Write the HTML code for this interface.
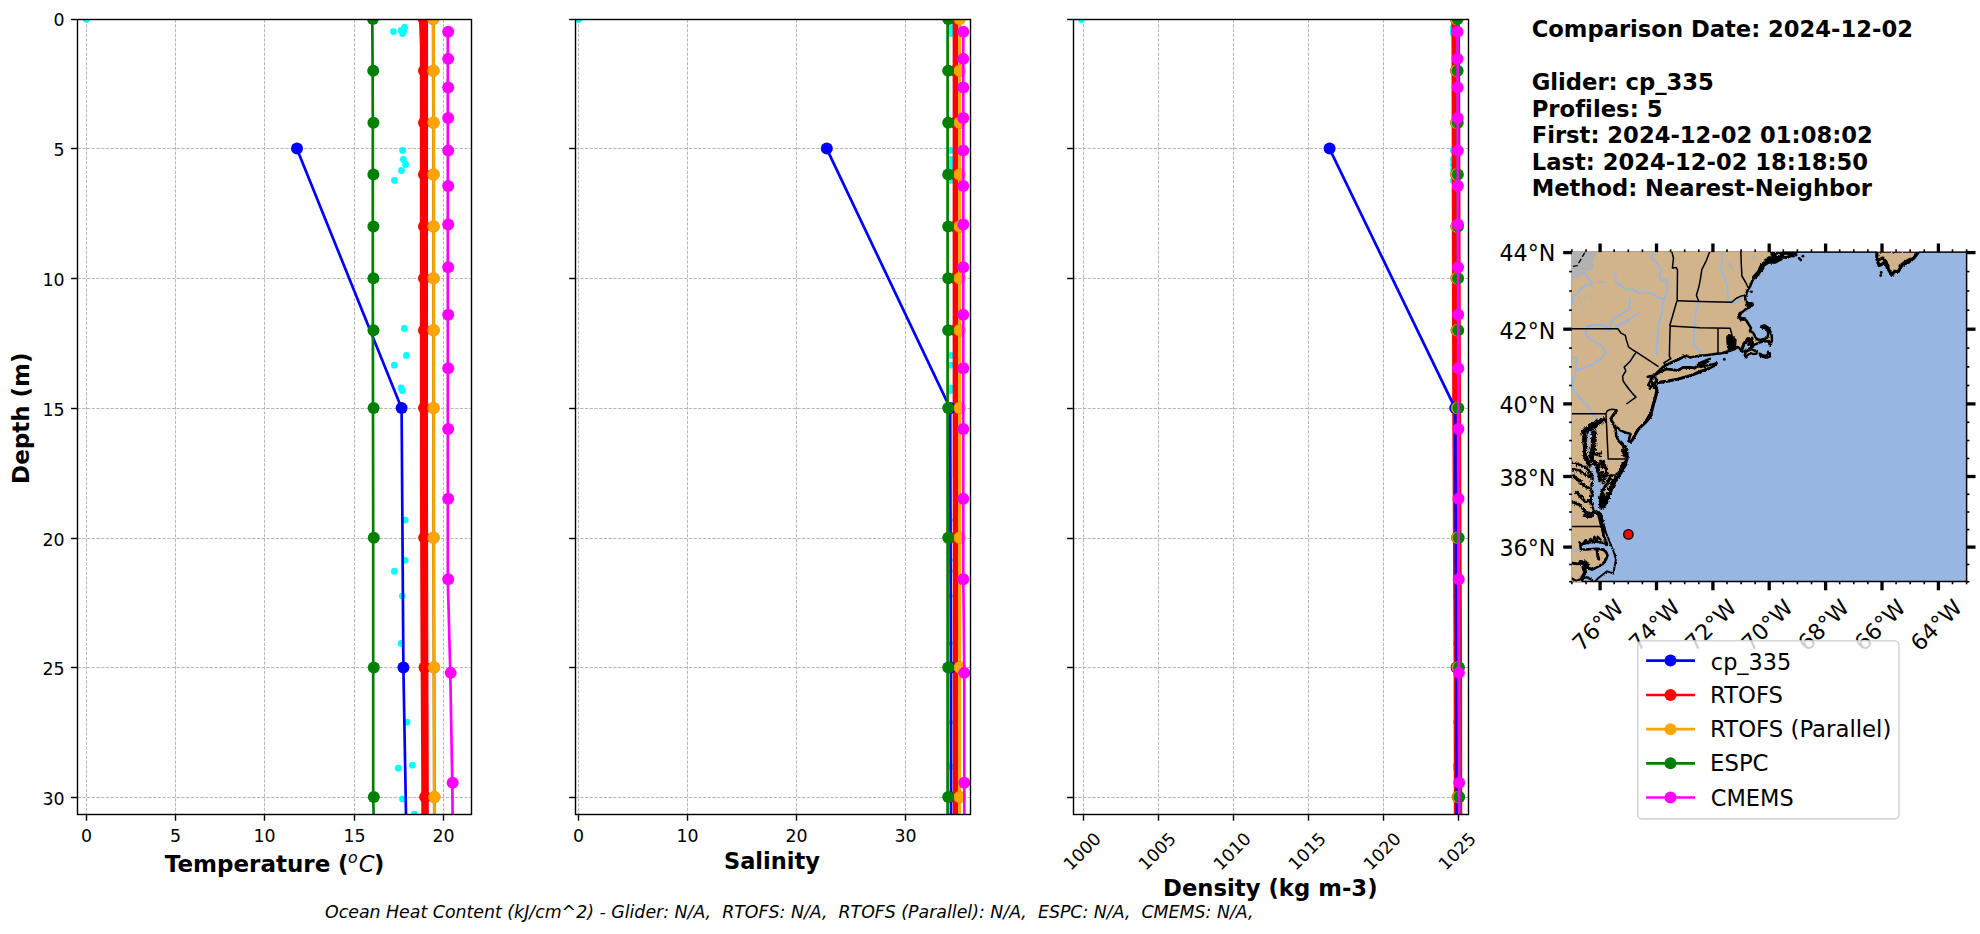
<!DOCTYPE html>
<html lang="en"><head><meta charset="utf-8"><title>Glider / model profile comparison</title>
<style>html,body{margin:0;padding:0;background:#fff}svg{display:block}text{font-family:"DejaVu Sans", "Liberation Sans", sans-serif;font-variant-ligatures:none;font-feature-settings:"liga" 0,"clig" 0}</style></head><body>
<svg width="1980" height="934" viewBox="0 0 1980 934">
<rect width="1980" height="934" fill="#fff"/>
<defs>
<clipPath id="c0"><rect x="77.5" y="19.5" width="394" height="795"/></clipPath>
<clipPath id="c1"><rect x="575.5" y="19.5" width="395" height="795"/></clipPath>
<clipPath id="c2"><rect x="1073.5" y="19.5" width="395" height="795"/></clipPath>
</defs>
<g stroke="#b0b0b0" stroke-width="0.9" stroke-dasharray="3.3 1.42" fill="none"><line x1="86.5" y1="19.5" x2="86.5" y2="814.5"/><line x1="175.5" y1="19.5" x2="175.5" y2="814.5"/><line x1="264.5" y1="19.5" x2="264.5" y2="814.5"/><line x1="354.5" y1="19.5" x2="354.5" y2="814.5"/><line x1="443.5" y1="19.5" x2="443.5" y2="814.5"/><line x1="77.5" y1="19.5" x2="471.5" y2="19.5"/><line x1="77.5" y1="148.5" x2="471.5" y2="148.5"/><line x1="77.5" y1="278.5" x2="471.5" y2="278.5"/><line x1="77.5" y1="408.5" x2="471.5" y2="408.5"/><line x1="77.5" y1="538.5" x2="471.5" y2="538.5"/><line x1="77.5" y1="667.5" x2="471.5" y2="667.5"/><line x1="77.5" y1="797.5" x2="471.5" y2="797.5"/></g>
<g clip-path="url(#c0)">
<circle cx="86.45" cy="19.4" r="3.4" fill="#00ffff"/><circle cx="393.4" cy="31.6" r="3.4" fill="#00ffff"/><circle cx="401.1" cy="30.5" r="3.4" fill="#00ffff"/><circle cx="404.5" cy="27.4" r="3.4" fill="#00ffff"/><circle cx="402.6" cy="33.6" r="3.4" fill="#00ffff"/><circle cx="403.7" cy="31" r="3.4" fill="#00ffff"/><circle cx="402.6" cy="150.4" r="3.4" fill="#00ffff"/><circle cx="403.5" cy="159.4" r="3.4" fill="#00ffff"/><circle cx="405.6" cy="164.5" r="3.4" fill="#00ffff"/><circle cx="401.5" cy="170.5" r="3.4" fill="#00ffff"/><circle cx="394.5" cy="180.4" r="3.4" fill="#00ffff"/><circle cx="404.4" cy="328.4" r="3.4" fill="#00ffff"/><circle cx="406.4" cy="355.4" r="3.4" fill="#00ffff"/><circle cx="394.4" cy="365.2" r="3.4" fill="#00ffff"/><circle cx="401.1" cy="388" r="3.4" fill="#00ffff"/><circle cx="402.4" cy="390.6" r="3.4" fill="#00ffff"/><circle cx="405.2" cy="520.1" r="3.4" fill="#00ffff"/><circle cx="405.2" cy="560.3" r="3.4" fill="#00ffff"/><circle cx="394.4" cy="571.2" r="3.4" fill="#00ffff"/><circle cx="402.3" cy="596.1" r="3.4" fill="#00ffff"/><circle cx="401.1" cy="643.5" r="3.4" fill="#00ffff"/><circle cx="407.1" cy="722.2" r="3.4" fill="#00ffff"/><circle cx="412.4" cy="765.2" r="3.4" fill="#00ffff"/><circle cx="398.3" cy="768.2" r="3.4" fill="#00ffff"/><circle cx="402.6" cy="799.1" r="3.4" fill="#00ffff"/><circle cx="414.3" cy="814.2" r="3.4" fill="#00ffff"/>
<polyline fill="none" stroke="#0000ff" stroke-width="2.7" points="297,148.95 401.6,408.35 403.4,667.75 408,927.15"/>
<circle cx="297" cy="148.6" r="6" fill="#0000ff"/>
<circle cx="401.6" cy="408" r="6" fill="#0000ff"/>
<circle cx="403.4" cy="667.4" r="6" fill="#0000ff"/>
<polygon fill="#ff0000" points="418.9,19.4 419.8,45 419.9,480 420.4,630 421.2,775 421.3,820 428.9,820 428.8,775 428.3,630 428,480 428.1,19.4"/>
<circle cx="423.6" cy="18.9" r="6" fill="#ff0000"/>
<circle cx="424.05" cy="70.78" r="6" fill="#ff0000"/>
<circle cx="424.05" cy="122.66" r="6" fill="#ff0000"/>
<circle cx="424.05" cy="174.54" r="6" fill="#ff0000"/>
<circle cx="424.05" cy="226.42" r="6" fill="#ff0000"/>
<circle cx="424.05" cy="278.3" r="6" fill="#ff0000"/>
<circle cx="424.05" cy="330.18" r="6" fill="#ff0000"/>
<circle cx="424.05" cy="408" r="6" fill="#ff0000"/>
<circle cx="424.2" cy="537.7" r="6" fill="#ff0000"/>
<circle cx="424.62" cy="667.4" r="6" fill="#ff0000"/>
<circle cx="425.15" cy="797.1" r="6" fill="#ff0000"/>
<g stroke="#b8860b" stroke-width="0.5"><polyline fill="none" stroke="#c58a10" stroke-width="3.3" points="433.3,19.25 433.45,71.13 433.6,123.01 433.6,174.89 433.6,226.77 433.6,278.65 433.6,330.53 433.6,408.35 433.6,538.05 434,667.75 434.4,797.45 435,927.15"/><circle cx="433.3" cy="18.9" r="6" fill="#ffa500"/><circle cx="433.45" cy="70.78" r="6" fill="#ffa500"/><circle cx="433.6" cy="122.66" r="6" fill="#ffa500"/><circle cx="433.6" cy="174.54" r="6" fill="#ffa500"/><circle cx="433.6" cy="226.42" r="6" fill="#ffa500"/><circle cx="433.6" cy="278.3" r="6" fill="#ffa500"/><circle cx="433.6" cy="330.18" r="6" fill="#ffa500"/><circle cx="433.6" cy="408" r="6" fill="#ffa500"/><circle cx="433.6" cy="537.7" r="6" fill="#ffa500"/><circle cx="434" cy="667.4" r="6" fill="#ffa500"/><circle cx="434.4" cy="797.1" r="6" fill="#ffa500"/></g>
<polyline fill="none" stroke="#ffa500" stroke-width="2.5" points="433.3,19.25 433.45,71.13 433.6,123.01 433.6,174.89 433.6,226.77 433.6,278.65 433.6,330.53 433.6,408.35 433.6,538.05 434,667.75 434.4,797.45 435,927.15"/>
<polyline fill="none" stroke="#008000" stroke-width="2.7" points="372.3,19.25 372.63,71.13 372.8,123.01 372.8,174.89 372.8,226.77 372.8,278.65 372.88,330.53 373,408.35 373.2,538.05 373.2,667.75 373.2,797.45 376.5,927.15"/><circle cx="372.9" cy="18.9" r="6" fill="#008000"/><circle cx="373.23" cy="70.78" r="6" fill="#008000"/><circle cx="373.4" cy="122.66" r="6" fill="#008000"/><circle cx="373.4" cy="174.54" r="6" fill="#008000"/><circle cx="373.4" cy="226.42" r="6" fill="#008000"/><circle cx="373.4" cy="278.3" r="6" fill="#008000"/><circle cx="373.48" cy="330.18" r="6" fill="#008000"/><circle cx="373.6" cy="408" r="6" fill="#008000"/><circle cx="373.8" cy="537.7" r="6" fill="#008000"/><circle cx="373.8" cy="667.4" r="6" fill="#008000"/><circle cx="373.8" cy="797.1" r="6" fill="#008000"/>
<polyline fill="none" stroke="#ff00ff" stroke-width="2.7" points="447.8,32.06 447.8,59.22 447.8,87.89 447.8,118.31 447.8,150.97 447.8,186.33 447.8,224.95 447.8,267.57 447.8,315.1 447.8,368.58 447.8,429.36 447.8,499.04 447.8,579.53 450.3,673.22 452.3,783.05 453.5,912.47"/><circle cx="448.2" cy="31.71" r="6" fill="#ff00ff"/><circle cx="448.2" cy="58.87" r="6" fill="#ff00ff"/><circle cx="448.2" cy="87.54" r="6" fill="#ff00ff"/><circle cx="448.2" cy="117.96" r="6" fill="#ff00ff"/><circle cx="448.2" cy="150.62" r="6" fill="#ff00ff"/><circle cx="448.2" cy="185.98" r="6" fill="#ff00ff"/><circle cx="448.2" cy="224.6" r="6" fill="#ff00ff"/><circle cx="448.2" cy="267.22" r="6" fill="#ff00ff"/><circle cx="448.2" cy="314.75" r="6" fill="#ff00ff"/><circle cx="448.2" cy="368.23" r="6" fill="#ff00ff"/><circle cx="448.2" cy="429.01" r="6" fill="#ff00ff"/><circle cx="448.2" cy="498.69" r="6" fill="#ff00ff"/><circle cx="448.2" cy="579.18" r="6" fill="#ff00ff"/><circle cx="450.7" cy="672.87" r="6" fill="#ff00ff"/><circle cx="452.7" cy="782.7" r="6" fill="#ff00ff"/>
</g>
<rect x="77.5" y="19.5" width="394" height="795" fill="none" stroke="#000" stroke-width="1.42"/>
<g stroke="#000" stroke-width="1.42"><line x1="71.1" y1="19.5" x2="76.9" y2="19.5"/><line x1="71.1" y1="148.5" x2="76.9" y2="148.5"/><line x1="71.1" y1="278.5" x2="76.9" y2="278.5"/><line x1="71.1" y1="408.5" x2="76.9" y2="408.5"/><line x1="71.1" y1="538.5" x2="76.9" y2="538.5"/><line x1="71.1" y1="667.5" x2="76.9" y2="667.5"/><line x1="71.1" y1="797.5" x2="76.9" y2="797.5"/><line x1="86.5" y1="815.1" x2="86.5" y2="820.7"/><line x1="175.5" y1="815.1" x2="175.5" y2="820.7"/><line x1="264.5" y1="815.1" x2="264.5" y2="820.7"/><line x1="354.5" y1="815.1" x2="354.5" y2="820.7"/><line x1="443.5" y1="815.1" x2="443.5" y2="820.7"/></g>
<g font-size="17.36" fill="#000"><text x="64.6" y="26" text-anchor="end">0</text><text x="64.6" y="156" text-anchor="end">5</text><text x="64.6" y="286" text-anchor="end">10</text><text x="64.6" y="416" text-anchor="end">15</text><text x="64.6" y="546" text-anchor="end">20</text><text x="64.6" y="675" text-anchor="end">25</text><text x="64.6" y="805" text-anchor="end">30</text><text x="86.5" y="842.1" text-anchor="middle">0</text><text x="175.5" y="842.1" text-anchor="middle">5</text><text x="264.5" y="842.1" text-anchor="middle">10</text><text x="354.5" y="842.1" text-anchor="middle">15</text><text x="443.5" y="842.1" text-anchor="middle">20</text></g>
<g stroke="#b0b0b0" stroke-width="0.9" stroke-dasharray="3.3 1.42" fill="none"><line x1="578.5" y1="19.5" x2="578.5" y2="814.5"/><line x1="687.5" y1="19.5" x2="687.5" y2="814.5"/><line x1="796.5" y1="19.5" x2="796.5" y2="814.5"/><line x1="905.5" y1="19.5" x2="905.5" y2="814.5"/><line x1="575.5" y1="19.5" x2="970.5" y2="19.5"/><line x1="575.5" y1="148.5" x2="970.5" y2="148.5"/><line x1="575.5" y1="278.5" x2="970.5" y2="278.5"/><line x1="575.5" y1="408.5" x2="970.5" y2="408.5"/><line x1="575.5" y1="538.5" x2="970.5" y2="538.5"/><line x1="575.5" y1="667.5" x2="970.5" y2="667.5"/><line x1="575.5" y1="797.5" x2="970.5" y2="797.5"/></g>
<g clip-path="url(#c1)">
<circle cx="578.5" cy="19.4" r="3.4" fill="#00ffff"/><circle cx="950.7" cy="31.6" r="3.4" fill="#00ffff"/><circle cx="950.7" cy="30.5" r="3.4" fill="#00ffff"/><circle cx="950.7" cy="27.4" r="3.4" fill="#00ffff"/><circle cx="950.7" cy="33.6" r="3.4" fill="#00ffff"/><circle cx="950.7" cy="150.4" r="3.4" fill="#00ffff"/><circle cx="950.7" cy="159.4" r="3.4" fill="#00ffff"/><circle cx="950.7" cy="164.5" r="3.4" fill="#00ffff"/><circle cx="950.7" cy="170.5" r="3.4" fill="#00ffff"/><circle cx="950.7" cy="180.4" r="3.4" fill="#00ffff"/><circle cx="950.7" cy="328.4" r="3.4" fill="#00ffff"/><circle cx="950.7" cy="355.4" r="3.4" fill="#00ffff"/><circle cx="950.7" cy="365.2" r="3.4" fill="#00ffff"/><circle cx="950.7" cy="388" r="3.4" fill="#00ffff"/><circle cx="950.7" cy="390.6" r="3.4" fill="#00ffff"/><circle cx="950.9" cy="520.1" r="2.2" fill="#00ffff"/><circle cx="950.9" cy="560.3" r="2.2" fill="#00ffff"/><circle cx="950.9" cy="571.2" r="2.2" fill="#00ffff"/><circle cx="950.9" cy="596.1" r="2.2" fill="#00ffff"/><circle cx="950.9" cy="643.5" r="2.2" fill="#00ffff"/><circle cx="950.9" cy="722.2" r="2.2" fill="#00ffff"/><circle cx="950.9" cy="765.2" r="2.2" fill="#00ffff"/><circle cx="950.9" cy="768.2" r="2.2" fill="#00ffff"/><circle cx="950.9" cy="799.1" r="2.2" fill="#00ffff"/>
<polygon fill="#ff0000" points="952.6,19.4 952.7,820 958.2,820 958.1,19.4"/>
<circle cx="955.3" cy="18.9" r="6" fill="#ff0000"/>
<circle cx="955.3" cy="70.78" r="6" fill="#ff0000"/>
<circle cx="955.3" cy="122.66" r="6" fill="#ff0000"/>
<circle cx="955.3" cy="174.54" r="6" fill="#ff0000"/>
<circle cx="955.3" cy="226.42" r="6" fill="#ff0000"/>
<circle cx="955.3" cy="278.3" r="6" fill="#ff0000"/>
<circle cx="955.3" cy="330.18" r="6" fill="#ff0000"/>
<circle cx="955.3" cy="408" r="6" fill="#ff0000"/>
<circle cx="955.3" cy="537.7" r="6" fill="#ff0000"/>
<circle cx="955.3" cy="667.4" r="6" fill="#ff0000"/>
<circle cx="955.3" cy="797.1" r="6" fill="#ff0000"/>
<polyline fill="none" stroke="#0000ff" stroke-width="2.7" points="826.8,148.95 950.2,408.35 950.9,667.75 951.1,927.15"/>
<circle cx="826.8" cy="148.6" r="6" fill="#0000ff"/>
<circle cx="950.2" cy="408" r="6" fill="#0000ff"/>
<circle cx="950.9" cy="667.4" r="6" fill="#0000ff"/>
<g stroke="#b8860b" stroke-width="0.5"><polyline fill="none" stroke="#ffa500" stroke-width="2.9" points="959.6,19.25 959.6,71.13 959.6,123.01 959.6,174.89 959.6,226.77 959.6,278.65 959.6,330.53 959.6,408.35 959.6,538.05 959.6,667.75 959.6,797.45 959.6,927.15"/><circle cx="959.6" cy="18.9" r="6" fill="#ffa500"/><circle cx="959.6" cy="70.78" r="6" fill="#ffa500"/><circle cx="959.6" cy="122.66" r="6" fill="#ffa500"/><circle cx="959.6" cy="174.54" r="6" fill="#ffa500"/><circle cx="959.6" cy="226.42" r="6" fill="#ffa500"/><circle cx="959.6" cy="278.3" r="6" fill="#ffa500"/><circle cx="959.6" cy="330.18" r="6" fill="#ffa500"/><circle cx="959.6" cy="408" r="6" fill="#ffa500"/><circle cx="959.6" cy="537.7" r="6" fill="#ffa500"/><circle cx="959.6" cy="667.4" r="6" fill="#ffa500"/><circle cx="959.6" cy="797.1" r="6" fill="#ffa500"/></g>
<polyline fill="none" stroke="#008000" stroke-width="2.7" points="947.6,19.25 947.6,71.13 947.6,123.01 947.6,174.89 947.6,226.77 947.6,278.65 947.6,330.53 947.6,408.35 947.6,538.05 947.6,667.75 947.6,797.45 947.6,927.15"/><circle cx="948.2" cy="18.9" r="6" fill="#008000"/><circle cx="948.2" cy="70.78" r="6" fill="#008000"/><circle cx="948.2" cy="122.66" r="6" fill="#008000"/><circle cx="948.2" cy="174.54" r="6" fill="#008000"/><circle cx="948.2" cy="226.42" r="6" fill="#008000"/><circle cx="948.2" cy="278.3" r="6" fill="#008000"/><circle cx="948.2" cy="330.18" r="6" fill="#008000"/><circle cx="948.2" cy="408" r="6" fill="#008000"/><circle cx="948.2" cy="537.7" r="6" fill="#008000"/><circle cx="948.2" cy="667.4" r="6" fill="#008000"/><circle cx="948.2" cy="797.1" r="6" fill="#008000"/>
<polyline fill="none" stroke="#ff00ff" stroke-width="2.7" points="963.3,32.06 963.3,59.22 963.3,87.89 963.3,118.31 963.3,150.97 963.3,186.33 963.3,224.95 963.3,267.57 963.3,315.1 963.3,368.58 963.3,429.36 963.3,499.04 963.3,579.53 964.3,673.22 964.3,783.05 964.6,912.47"/><circle cx="963.3" cy="31.71" r="6" fill="#ff00ff"/><circle cx="963.3" cy="58.87" r="6" fill="#ff00ff"/><circle cx="963.3" cy="87.54" r="6" fill="#ff00ff"/><circle cx="963.3" cy="117.96" r="6" fill="#ff00ff"/><circle cx="963.3" cy="150.62" r="6" fill="#ff00ff"/><circle cx="963.3" cy="185.98" r="6" fill="#ff00ff"/><circle cx="963.3" cy="224.6" r="6" fill="#ff00ff"/><circle cx="963.3" cy="267.22" r="6" fill="#ff00ff"/><circle cx="963.3" cy="314.75" r="6" fill="#ff00ff"/><circle cx="963.3" cy="368.23" r="6" fill="#ff00ff"/><circle cx="963.3" cy="429.01" r="6" fill="#ff00ff"/><circle cx="963.3" cy="498.69" r="6" fill="#ff00ff"/><circle cx="963.3" cy="579.18" r="6" fill="#ff00ff"/><circle cx="964.3" cy="672.87" r="6" fill="#ff00ff"/><circle cx="964.3" cy="782.7" r="6" fill="#ff00ff"/>
</g>
<rect x="575.5" y="19.5" width="395" height="795" fill="none" stroke="#000" stroke-width="1.42"/>
<g stroke="#000" stroke-width="1.42"><line x1="569.1" y1="19.5" x2="574.9" y2="19.5"/><line x1="569.1" y1="148.5" x2="574.9" y2="148.5"/><line x1="569.1" y1="278.5" x2="574.9" y2="278.5"/><line x1="569.1" y1="408.5" x2="574.9" y2="408.5"/><line x1="569.1" y1="538.5" x2="574.9" y2="538.5"/><line x1="569.1" y1="667.5" x2="574.9" y2="667.5"/><line x1="569.1" y1="797.5" x2="574.9" y2="797.5"/><line x1="578.5" y1="815.1" x2="578.5" y2="820.7"/><line x1="687.5" y1="815.1" x2="687.5" y2="820.7"/><line x1="796.5" y1="815.1" x2="796.5" y2="820.7"/><line x1="905.5" y1="815.1" x2="905.5" y2="820.7"/></g>
<g font-size="17.36" fill="#000"><text x="578.5" y="842.1" text-anchor="middle">0</text><text x="687.5" y="842.1" text-anchor="middle">10</text><text x="796.5" y="842.1" text-anchor="middle">20</text><text x="905.5" y="842.1" text-anchor="middle">30</text></g>
<g stroke="#b0b0b0" stroke-width="0.9" stroke-dasharray="3.3 1.42" fill="none"><line x1="1083.5" y1="19.5" x2="1083.5" y2="814.5"/><line x1="1158.5" y1="19.5" x2="1158.5" y2="814.5"/><line x1="1233.5" y1="19.5" x2="1233.5" y2="814.5"/><line x1="1308.5" y1="19.5" x2="1308.5" y2="814.5"/><line x1="1383.5" y1="19.5" x2="1383.5" y2="814.5"/><line x1="1458.5" y1="19.5" x2="1458.5" y2="814.5"/><line x1="1073.5" y1="19.5" x2="1468.5" y2="19.5"/><line x1="1073.5" y1="148.5" x2="1468.5" y2="148.5"/><line x1="1073.5" y1="278.5" x2="1468.5" y2="278.5"/><line x1="1073.5" y1="408.5" x2="1468.5" y2="408.5"/><line x1="1073.5" y1="538.5" x2="1468.5" y2="538.5"/><line x1="1073.5" y1="667.5" x2="1468.5" y2="667.5"/><line x1="1073.5" y1="797.5" x2="1468.5" y2="797.5"/></g>
<g clip-path="url(#c2)">
<circle cx="1081.5" cy="19.4" r="3.4" fill="#00ffff"/><circle cx="1453.4" cy="31.6" r="3.4" fill="#00ffff"/><circle cx="1453.4" cy="30.5" r="3.4" fill="#00ffff"/><circle cx="1453.4" cy="27.4" r="3.4" fill="#00ffff"/><circle cx="1453.4" cy="33.6" r="3.4" fill="#00ffff"/><circle cx="1453.4" cy="150.4" r="3.4" fill="#00ffff"/><circle cx="1453.4" cy="159.4" r="3.4" fill="#00ffff"/><circle cx="1453.4" cy="164.5" r="3.4" fill="#00ffff"/><circle cx="1453.4" cy="170.5" r="3.4" fill="#00ffff"/><circle cx="1453.4" cy="180.4" r="3.4" fill="#00ffff"/><circle cx="1455.6" cy="328.4" r="3.4" fill="#00ffff"/><circle cx="1455.6" cy="355.4" r="3.4" fill="#00ffff"/><circle cx="1455.6" cy="365.2" r="3.4" fill="#00ffff"/><circle cx="1456.4" cy="388" r="3.4" fill="#00ffff"/><circle cx="1456.4" cy="390.6" r="3.4" fill="#00ffff"/><circle cx="1456.4" cy="520.1" r="3.4" fill="#00ffff"/><circle cx="1456.4" cy="560.3" r="3.4" fill="#00ffff"/><circle cx="1456.4" cy="571.2" r="3.4" fill="#00ffff"/><circle cx="1456.4" cy="596.1" r="3.4" fill="#00ffff"/><circle cx="1456.4" cy="643.5" r="3.4" fill="#00ffff"/><circle cx="1456.4" cy="722.2" r="3.4" fill="#00ffff"/><circle cx="1456.4" cy="765.2" r="3.4" fill="#00ffff"/><circle cx="1456.4" cy="768.2" r="3.4" fill="#00ffff"/><circle cx="1456.4" cy="799.1" r="3.4" fill="#00ffff"/>
<polygon fill="#ff0000" points="1451.4,19.4 1452.2,408 1453.6,668 1453.8,820 1462.3,820 1462.1,668 1461,408 1460,19.4"/>
<circle cx="1455.9" cy="18.9" r="6" fill="#ff0000"/>
<circle cx="1456.02" cy="70.78" r="6" fill="#ff0000"/>
<circle cx="1456.14" cy="122.66" r="6" fill="#ff0000"/>
<circle cx="1456.26" cy="174.54" r="6" fill="#ff0000"/>
<circle cx="1456.38" cy="226.42" r="6" fill="#ff0000"/>
<circle cx="1456.5" cy="278.3" r="6" fill="#ff0000"/>
<circle cx="1456.62" cy="330.18" r="6" fill="#ff0000"/>
<circle cx="1456.8" cy="408" r="6" fill="#ff0000"/>
<circle cx="1457.1" cy="537.7" r="6" fill="#ff0000"/>
<circle cx="1457.4" cy="667.4" r="6" fill="#ff0000"/>
<circle cx="1457.7" cy="797.1" r="6" fill="#ff0000"/>
<polyline fill="none" stroke="#0000ff" stroke-width="2.7" points="1329.6,148.95 1455.2,408.35 1456.3,667.75 1456.8,927.15"/>
<circle cx="1329.6" cy="148.6" r="6" fill="#0000ff"/>
<circle cx="1455.2" cy="408" r="6" fill="#0000ff"/>
<circle cx="1456.6" cy="667.4" r="6" fill="#0000ff"/>
<g stroke="#b8860b" stroke-width="0.5"><polyline fill="none" stroke="#ffa500" stroke-width="2.2" points="1457.5,19.25 1457.62,71.13 1457.74,123.01 1457.86,174.89 1457.98,226.77 1458.1,278.65 1458.22,330.53 1458.4,408.35 1458.7,538.05 1459,667.75 1459.3,797.45 1459.4,927.15"/><circle cx="1456.2" cy="18.9" r="6" fill="#ffa500"/><circle cx="1456.32" cy="70.78" r="6" fill="#ffa500"/><circle cx="1456.44" cy="122.66" r="6" fill="#ffa500"/><circle cx="1456.56" cy="174.54" r="6" fill="#ffa500"/><circle cx="1456.68" cy="226.42" r="6" fill="#ffa500"/><circle cx="1456.8" cy="278.3" r="6" fill="#ffa500"/><circle cx="1456.92" cy="330.18" r="6" fill="#ffa500"/><circle cx="1457.1" cy="408" r="6" fill="#ffa500"/><circle cx="1457.4" cy="537.7" r="6" fill="#ffa500"/><circle cx="1457.7" cy="667.4" r="6" fill="#ffa500"/><circle cx="1458" cy="797.1" r="6" fill="#ffa500"/></g>
<polyline fill="none" stroke="#008000" stroke-width="2.7" points="1457.5,19.25 1457.62,71.13 1457.74,123.01 1457.86,174.89 1457.98,226.77 1458.1,278.65 1458.22,330.53 1458.4,408.35 1458.7,538.05 1459,667.75 1459.3,797.45 1459.4,927.15"/><circle cx="1457.5" cy="18.9" r="6" fill="#008000"/><circle cx="1457.62" cy="70.78" r="6" fill="#008000"/><circle cx="1457.74" cy="122.66" r="6" fill="#008000"/><circle cx="1457.86" cy="174.54" r="6" fill="#008000"/><circle cx="1457.98" cy="226.42" r="6" fill="#008000"/><circle cx="1458.1" cy="278.3" r="6" fill="#008000"/><circle cx="1458.22" cy="330.18" r="6" fill="#008000"/><circle cx="1458.4" cy="408" r="6" fill="#008000"/><circle cx="1458.7" cy="537.7" r="6" fill="#008000"/><circle cx="1459" cy="667.4" r="6" fill="#008000"/><circle cx="1459.3" cy="797.1" r="6" fill="#008000"/>
<polyline fill="none" stroke="#ff00ff" stroke-width="2.7" points="1457.53,32.06 1457.59,59.22 1457.65,87.89 1457.72,118.31 1457.79,150.97 1457.87,186.33 1457.95,224.95 1458.05,267.57 1458.15,315.1 1458.27,368.58 1458.4,429.36 1458.55,499.04 1458.73,579.53 1458.94,673.22 1459.18,783.05 1459.4,912.47"/><circle cx="1457.53" cy="31.71" r="6" fill="#ff00ff"/><circle cx="1457.59" cy="58.87" r="6" fill="#ff00ff"/><circle cx="1457.65" cy="87.54" r="6" fill="#ff00ff"/><circle cx="1457.72" cy="117.96" r="6" fill="#ff00ff"/><circle cx="1457.79" cy="150.62" r="6" fill="#ff00ff"/><circle cx="1457.87" cy="185.98" r="6" fill="#ff00ff"/><circle cx="1457.95" cy="224.6" r="6" fill="#ff00ff"/><circle cx="1458.05" cy="267.22" r="6" fill="#ff00ff"/><circle cx="1458.15" cy="314.75" r="6" fill="#ff00ff"/><circle cx="1458.27" cy="368.23" r="6" fill="#ff00ff"/><circle cx="1458.4" cy="429.01" r="6" fill="#ff00ff"/><circle cx="1458.55" cy="498.69" r="6" fill="#ff00ff"/><circle cx="1458.73" cy="579.18" r="6" fill="#ff00ff"/><circle cx="1458.94" cy="672.87" r="6" fill="#ff00ff"/><circle cx="1459.18" cy="782.7" r="6" fill="#ff00ff"/>
</g>
<rect x="1073.5" y="19.5" width="395" height="795" fill="none" stroke="#000" stroke-width="1.42"/>
<g stroke="#000" stroke-width="1.42"><line x1="1067.1" y1="19.5" x2="1072.9" y2="19.5"/><line x1="1067.1" y1="148.5" x2="1072.9" y2="148.5"/><line x1="1067.1" y1="278.5" x2="1072.9" y2="278.5"/><line x1="1067.1" y1="408.5" x2="1072.9" y2="408.5"/><line x1="1067.1" y1="538.5" x2="1072.9" y2="538.5"/><line x1="1067.1" y1="667.5" x2="1072.9" y2="667.5"/><line x1="1067.1" y1="797.5" x2="1072.9" y2="797.5"/><line x1="1083.5" y1="815.1" x2="1083.5" y2="820.7"/><line x1="1158.5" y1="815.1" x2="1158.5" y2="820.7"/><line x1="1233.5" y1="815.1" x2="1233.5" y2="820.7"/><line x1="1308.5" y1="815.1" x2="1308.5" y2="820.7"/><line x1="1383.5" y1="815.1" x2="1383.5" y2="820.7"/><line x1="1458.5" y1="815.1" x2="1458.5" y2="820.7"/></g>
<g font-size="17.36" fill="#000"><text transform="translate(1081.9,851) rotate(-45)" x="0" y="6.5" text-anchor="middle">1000</text><text transform="translate(1156.9,851) rotate(-45)" x="0" y="6.5" text-anchor="middle">1005</text><text transform="translate(1231.9,851) rotate(-45)" x="0" y="6.5" text-anchor="middle">1010</text><text transform="translate(1306.9,851) rotate(-45)" x="0" y="6.5" text-anchor="middle">1015</text><text transform="translate(1381.9,851) rotate(-45)" x="0" y="6.5" text-anchor="middle">1020</text><text transform="translate(1456.9,851) rotate(-45)" x="0" y="6.5" text-anchor="middle">1025</text></g>
<g fill="#000">
<text transform="translate(28.7,483.91) rotate(-90)" x="0" y="0" font-size="22.57" font-weight="bold" textLength="131.38" lengthAdjust="spacingAndGlyphs">Depth (m)</text>
<text x="164.79" y="871.8" font-size="22.57" font-weight="bold" textLength="165.52" lengthAdjust="spacingAndGlyphs" xml:space="preserve">Temperature</text>
<text x="337.96" y="871.8" font-size="22.57" font-weight="bold" xml:space="preserve">(</text>
<text x="347.97" y="863" font-size="15.8" font-style="italic" xml:space="preserve">o</text>
<text x="358.85" y="871.8" font-size="22.57" font-style="italic" xml:space="preserve">C</text>
<text x="374.09" y="871.8" font-size="22.57" font-weight="bold" xml:space="preserve">)</text>
<text x="723.98" y="869.4" font-size="22.57" font-weight="bold" textLength="96.02" lengthAdjust="spacingAndGlyphs" xml:space="preserve">Salinity</text>
<text x="1163.01" y="895.6" font-size="22.57" font-weight="bold" textLength="214.54" lengthAdjust="spacingAndGlyphs" xml:space="preserve">Density (kg m-3)</text>
<text x="325" y="918" font-size="17.36" font-style="italic" textLength="928.47" lengthAdjust="spacingAndGlyphs" xml:space="preserve">Ocean Heat Content (kJ/cm^2) - Glider: N/A,  RTOFS: N/A,  RTOFS (Parallel): N/A,  ESPC: N/A,  CMEMS: N/A,</text>
<text x="1531.67" y="37" font-size="22.57" font-weight="bold" textLength="381.3" lengthAdjust="spacingAndGlyphs" xml:space="preserve">Comparison Date: 2024-12-02</text>
<text x="1531.67" y="90" font-size="22.57" font-weight="bold" textLength="182.21" lengthAdjust="spacingAndGlyphs" xml:space="preserve">Glider: cp_335</text>
<text x="1531.7" y="116.5" font-size="22.57" font-weight="bold" textLength="130.8" lengthAdjust="spacingAndGlyphs" xml:space="preserve">Profiles: 5</text>
<text x="1531.72" y="143" font-size="22.57" font-weight="bold" textLength="341.05" lengthAdjust="spacingAndGlyphs" xml:space="preserve">First: 2024-12-02 01:08:02</text>
<text x="1531.72" y="170" font-size="22.57" font-weight="bold" textLength="336.26" lengthAdjust="spacingAndGlyphs" xml:space="preserve">Last: 2024-12-02 18:18:50</text>
<text x="1531.72" y="196" font-size="22.57" font-weight="bold" textLength="340.14" lengthAdjust="spacingAndGlyphs" xml:space="preserve">Method: Nearest-Neighbor</text>
</g>
<defs><clipPath id="mc"><rect x="1571.1" y="251.3" width="396.3" height="331"/></clipPath>
<clipPath id="mc2"><rect x="1571.9" y="252.1" width="394.7" height="329.4"/></clipPath>
<filter id="rg" x="-5%" y="-5%" width="110%" height="110%"><feTurbulence type="fractalNoise" baseFrequency="0.45" numOctaves="2" seed="7" result="n"/><feDisplacementMap in="SourceGraphic" in2="n" scale="2.4" xChannelSelector="R" yChannelSelector="G"/></filter><filter id="rg2" x="-10%" y="-10%" width="120%" height="120%"><feTurbulence type="fractalNoise" baseFrequency="0.55" numOctaves="2" seed="3" result="n"/><feDisplacementMap in="SourceGraphic" in2="n" scale="4.2" xChannelSelector="R" yChannelSelector="G"/></filter></defs>
<rect x="1571.9" y="252.1" width="394.7" height="329.4" fill="#97b6e1"/>
<rect x="1571.9" y="252.1" width="394.7" height="329.4" fill="none" stroke="#000" stroke-width="1.5"/>
<g clip-path="url(#mc)">
<g fill="#d2b48c" stroke="none">
<polygon points="1570.9,251.1 1784.2,251.1 1784.2,251.4 1781,256.8 1775.6,261.1 1769.2,260 1764.9,263.2 1761.2,266.4 1759.6,270.2 1757.4,273.9 1754.2,277.1 1752.1,281.4 1749.9,286.7 1747.8,290 1746.2,293.7 1745.1,297.4 1745.7,300.7 1747.8,303.3 1751.5,303.3 1752.6,304.9 1749.9,307.1 1745.7,309.2 1743,311.4 1740.3,313.5 1738.7,316.2 1740.8,318.9 1744.6,318.9 1746.7,321 1748.9,324.7 1751,327.9 1749.9,330.6 1753.1,332.8 1755.3,336.5 1756.9,339.3 1760.6,339.9 1764.9,338.8 1767.5,337.3 1768.3,333.4 1767.3,329.8 1764.9,328.1 1762.4,327.5 1761.5,326.2 1764.9,325.4 1769.2,328.6 1771.6,335 1772,340.3 1770.3,345.7 1768.9,343 1769,341 1763.9,341.3 1758.5,342.8 1754.2,344.9 1751.5,347.4 1750.2,342.7 1748.7,339.5 1746.7,341.6 1744.1,344.8 1741.4,350.6 1739.2,348 1737.1,347 1735,348.9 1730.7,350.7 1726.4,351.8 1722.1,353.2 1716.8,353.7 1711.4,354.5 1706.1,355.3 1700.7,355.5 1695.4,356.4 1690,357.5 1686.3,355.7 1677.7,359.6 1672.4,362 1665.4,365.2 1662.8,367.1 1660.6,369.2 1656.3,373.5 1653.1,375.7 1651,378.3 1650.4,381 1648.3,384.8 1651,387.2 1655.8,386.1 1656.9,390.6 1655.5,397.1 1653.3,404.6 1651.6,411 1649.1,416.3 1646.7,420 1651,415.7 1646.7,421.1 1642.4,425.3 1638.1,429.6 1634.9,435 1632.8,439.3 1630.6,441.9 1628.5,441.4 1629.6,437.1 1630.6,433.9 1626.4,432.8 1621,430.7 1615.7,426.4 1613.5,424.3 1615.7,429.6 1616.2,436 1618.9,441.4 1623.1,445.7 1626.4,447.8 1626.9,452.1 1627.4,458.5 1625.3,464.9 1622.1,470.3 1617.8,476.7 1613.5,483.1 1610.3,489.6 1607.1,497 1605,505 1607.1,497.1 1605,505 1601.3,507.1 1599.2,506.7 1596.4,511.4 1600.5,513.8 1602.3,521 1603.9,527.5 1603.3,535 1605.5,540.3 1607.1,544.1 1602.8,542.7 1595.3,541.6 1586.8,542.7 1580.3,545 1580.9,549.5 1586.8,549.5 1592.1,549.1 1597.5,548.7 1602.8,549.5 1606,552.1 1607.6,555.3 1606,559.6 1602.8,563.9 1598.5,566.5 1593.2,569.2 1588.9,568.7 1586.2,564.9 1583,563 1584.8,567.1 1585.9,572.4 1583.3,576.7 1581.9,581.6 1581.9,582.5 1570.9,582.5" />
<polygon points="1651,379.9 1654.2,375.7 1660.1,372.1 1666,368.9 1672.4,369.6 1677.7,370.4 1683.1,367.5 1688.4,367.2 1694.9,368 1699.6,363 1706.1,360.2 1709.9,358.7 1708,361.3 1703.1,364 1700.3,367.2 1706.1,365.6 1711.4,364.5 1716.8,363.2 1715.3,365.6 1709.3,368.3 1700.7,371.5 1694.3,374.2 1690,375.8 1677.7,379.1 1667,381.2 1658.5,382.5 1652.6,383.8" />
<polygon points="1745.1,352.1 1748.3,350.6 1752.1,349.5 1754.2,350.5 1757,351 1756.4,353.7 1753.1,354 1750.5,353.2 1747.8,354.9 1745.7,357 1744.8,355.3" />
<polygon points="1759.6,353.6 1761.7,354.8 1764.9,355.9 1767.6,354.5 1768.1,351.7 1769.8,353.2 1770.1,356.4 1767.1,357.7 1763.3,357 1760.6,356" />
<polygon points="1876.9,251.1 1876.9,251.1 1876.9,259.6 1879.1,265.5 1882.3,263.9 1885.5,261.8 1887.1,267.1 1890.3,272.5 1891.9,275.1 1894.6,271.4 1898.3,271.4 1901.5,266 1904.2,263.9 1908.5,262.3 1913.9,258 1919.2,251.1 1919.2,251.1" />
</g>
<g fill="#b2b2b2">
<polygon points="1570.7,250.7 1597.7,250.7 1594.5,257.1 1593.2,261.4 1593.8,267.8 1591,271 1586.8,271 1583.5,274.3 1579.3,277.5 1575,279.6 1570.7,282" />
<polygon points="1728,263.2 1731.2,262.7 1732.3,265.9 1734.4,270.2 1732.8,270.7 1730.7,268 1729.1,266.9" />
<polygon points="1751.5,255.7 1754.2,255.2 1755.3,258.9 1753.7,259.4" />
<ellipse cx="1601.7" cy="282.1" rx="4.8" ry="1" transform="rotate(8 1601.7 282.1)"/>
</g>
<g fill="none" stroke="#b2b2b2" stroke-linecap="round">
<polyline points="1587.8,293 1591.6,298.3" stroke-width="1.0"/>
<polyline points="1584.1,294.6 1586.2,299.4" stroke-width="0.9"/>
<polyline points="1578.4,296.7 1581.4,304.2 1585.2,310.1" stroke-width="1.0"/>
<polyline points="1574.4,304.2 1575.5,313.9" stroke-width="0.9"/>
</g>
<g fill="none" stroke="#97b6e1" stroke-width="1.75" stroke-linejoin="round" stroke-linecap="round">
<polyline points="1584.6,273.2 1587.8,277.5 1592.1,282.8 1591,285 1586.8,285 1581.4,288.2 1578.2,292.4 1573.9,295.7 1572.3,299.9 1572.8,304.2" />
<polyline points="1614.1,272.6 1615.7,276.4 1615.7,281.7 1619.9,285 1626.4,289.2 1632.8,289.2 1639.2,293.5 1645.6,293 1649.9,292.4 1656.3,296.7 1661.7,298.9 1664.4,298.3" />
<polyline points="1654.2,252 1651,257.1 1654.2,260.3 1658.5,264.6 1660.6,271 1659.5,276.4 1661.7,280.7 1667,279.6 1667.6,286 1666,293.5 1664.4,298.3 1662.8,304.2 1661.7,314.9 1658.5,323.5 1657.4,332 1657.9,340 1657.9,330.7 1657.4,341.4 1656.3,348.9 1656.9,354.3" />
<polyline points="1630.6,298.3 1629.6,304.2 1628.5,309.6 1622.1,313.9 1615.7,317.1 1611.4,321.3 1610.3,326.7 1610.3,331" />
<polyline points="1638.7,313.3 1633.9,316 1628.5,319.2 1624.2,322.9 1619.9,324.6 1615.7,326.7" />
<polyline points="1586.2,326.7 1592.1,325.1 1596.4,325.6 1600.7,324.6 1605,325.6 1607.1,329.9 1610.3,331" />
<polyline points="1585.7,328.8 1585.7,334.2 1591,340" />
<polyline points="1610.3,330.7 1606,326.4 1601.7,324.8 1594.3,324.8 1587.8,327.5 1585.7,331.8 1586.8,336.1 1591,339.3 1596.4,342.5 1602.8,346.8 1606,353.2 1600.7,358.5 1595.3,362.8 1583.5,368.2 1576.1,370.3" />
<polyline points="1571.8,356.4 1577.1,358.5 1576.1,362.8 1576.1,369.2 1573.9,377.8 1572.3,384.2 1573.9,390.6 1579.3,397.1 1585.7,403.5 1591,411 1596.4,418.5 1598.5,419.4" />
<polyline points="1610.3,326.4 1611.4,322.1 1613.5,320" />
<polyline points="1615.7,326.4 1622.1,323.2 1628.5,321.1" />
<polyline points="1699.1,302.3 1696.4,309.2 1694.8,319.9 1694.3,330.6 1693.7,345 1693.2,344.6 1696.6,348 1701.8,352.6" />
<polyline points="1721.6,251.6 1722.1,261.1 1720.5,268 1724.3,277.1 1727.5,285.7 1727.5,296.4 1729.6,301.7 1732.8,303.9 1737.1,301.7 1742.4,297.4" />
<polyline points="1570.7,549.4 1576.1,551.5 1580.3,548.3" />
<polyline points="1636.5,352.1 1633.9,355.3 1630.6,360.7 1626.4,365 1624.2,367.1 1625.8,370.8 1624.2,373.5 1622.6,376.7 1623.1,381 1625.3,384.2 1628.5,388.5 1632.8,393.9 1636,397.1 1626.4,404" />
</g>
<polygon points="1602.3,419.4 1595.3,423.2 1588.9,430.7 1587,437.1 1587.5,440 1587.1,445.1 1588.2,451.1 1589.3,457.1 1589.9,464.8 1591.8,472.5 1592.7,478.5 1591.4,484.5 1592.3,491.4 1590.6,500 1592.1,506.8 1594.4,512.8 1600,512.8 1599.6,507.7 1599,500 1601,491.4 1604.3,486.3 1603,482.8 1600,482.8 1598.3,476 1595.7,468.3 1591.4,464.8 1590.6,457.1 1589.7,451.1 1589,445.1 1589.6,440 1591.3,437.1 1592.1,433 1596.4,427.7 1600.7,423.4 1603,421.1" fill="#97b6e1"/>
</g>
<g clip-path="url(#mc2)">
<g fill="none" stroke="#000" stroke-linejoin="round" stroke-linecap="round" filter="url(#rg)">
<polyline points="1784.2,251.4 1781,256.8 1775.6,261.1 1769.2,260 1764.9,263.2 1761.2,266.4 1759.6,270.2 1757.4,273.9 1754.2,277.1 1752.1,281.4 1749.9,286.7 1747.8,290 1746.2,293.7 1745.1,297.4 1745.7,300.7 1747.8,303.3 1751.5,303.3 1752.6,304.9 1749.9,307.1 1745.7,309.2 1743,311.4 1740.3,313.5 1738.7,316.2 1740.8,318.9 1744.6,318.9 1746.7,321 1748.9,324.7 1751,327.9 1749.9,330.6 1753.1,332.8 1755.3,336.5 1756.9,339.3 1760.6,339.9 1764.9,338.8 1767.5,337.3 1768.3,333.4 1767.3,329.8 1764.9,328.1 1762.4,327.5 1761.5,326.2 1764.9,325.4 1769.2,328.6 1771.6,335 1772,340.3 1770.3,345.7 1768.9,343 1769,341 1763.9,341.3 1758.5,342.8 1754.2,344.9 1751.5,347.4 1750.2,342.7 1748.7,339.5 1746.7,341.6 1744.1,344.8 1741.4,350.6 1739.2,348 1737.1,347 1735,348.9 1730.7,350.7 1726.4,351.8 1722.1,353.2 1716.8,353.7 1711.4,354.5 1706.1,355.3 1700.7,355.5 1695.4,356.4 1690,357.5 1686.3,355.7 1677.7,359.6 1672.4,362 1665.4,365.2 1662.8,367.1 1660.6,369.2 1656.3,373.5 1653.1,375.7 1651,378.3 1650.4,381 1648.3,384.8 1651,387.2 1655.8,386.1 1656.9,390.6 1655.5,397.1 1653.3,404.6 1651.6,411 1649.1,416.3 1646.7,420 1651,415.7 1646.7,421.1 1642.4,425.3 1638.1,429.6 1634.9,435 1632.8,439.3 1630.6,441.9 1628.5,441.4 1629.6,437.1 1630.6,433.9 1626.4,432.8 1621,430.7 1615.7,426.4 1613.5,424.3 1615.7,429.6 1616.2,436 1618.9,441.4 1623.1,445.7 1626.4,447.8 1626.9,452.1 1627.4,458.5 1625.3,464.9 1622.1,470.3 1617.8,476.7 1613.5,483.1 1610.3,489.6 1607.1,497 1605,505 1607.1,497.1 1605,505 1601.3,507.1" stroke-width="2.5"/>
<polyline points="1596.4,511.4 1600.5,513.8 1602.3,521 1603.9,527.5 1603.3,535 1605.5,540.3 1607.1,544.1 1602.8,542.7 1595.3,541.6 1586.8,542.7 1580.3,545 1580.9,549.5 1586.8,549.5 1592.1,549.1 1597.5,548.7 1602.8,549.5 1606,552.1 1607.6,555.3 1606,559.6 1602.8,563.9 1598.5,566.5 1593.2,569.2 1588.9,568.7 1586.2,564.9 1583,563 1584.8,567.1 1585.9,572.4 1583.3,576.7 1581.9,581.6" stroke-width="2.5"/>
<polygon points="1651,379.9 1654.2,375.7 1660.1,372.1 1666,368.9 1672.4,369.6 1677.7,370.4 1683.1,367.5 1688.4,367.2 1694.9,368 1699.6,363 1706.1,360.2 1709.9,358.7 1708,361.3 1703.1,364 1700.3,367.2 1706.1,365.6 1711.4,364.5 1716.8,363.2 1715.3,365.6 1709.3,368.3 1700.7,371.5 1694.3,374.2 1690,375.8 1677.7,379.1 1667,381.2 1658.5,382.5 1652.6,383.8" stroke-width="2.3"/>
<polygon points="1745.1,352.1 1748.3,350.6 1752.1,349.5 1754.2,350.5 1757,351 1756.4,353.7 1753.1,354 1750.5,353.2 1747.8,354.9 1745.7,357 1744.8,355.3" stroke-width="2.3"/>
<polygon points="1759.6,353.6 1761.7,354.8 1764.9,355.9 1767.6,354.5 1768.1,351.7 1769.8,353.2 1770.1,356.4 1767.1,357.7 1763.3,357 1760.6,356" stroke-width="2.3"/>
<polygon points="1876.9,251.1 1876.9,259.6 1879.1,265.5 1882.3,263.9 1885.5,261.8 1887.1,267.1 1890.3,272.5 1891.9,275.1 1894.6,271.4 1898.3,271.4 1901.5,266 1904.2,263.9 1908.5,262.3 1913.9,258 1919.2,251.1" stroke-width="3.3"/>
<polyline points="1879.1,259.6 1882.8,258 1886,261.8 1888.2,267.1" stroke-width="3.0"/>
<polyline points="1899.9,266 1905.3,261.8 1910.6,259.1" stroke-width="3.0"/>
<polyline points="1600.5,513.8 1602.8,521 1606,532.8 1610.3,543.5 1614.6,554.2 1615.8,559.6 1613.5,573.5 1607.1,571.3 1602.8,574.6 1597.5,578.8 1594.8,581.6" stroke-width="1.9"/>
<polyline points="1597.7,513 1599.8,521 1602,529.6 1604.4,538.2 1607.1,545.1" stroke-width="2.2"/>
<polyline points="1599.2,514.1 1602,522.1 1604.7,531.2" stroke-width="2.6"/>
<polyline points="1771.3,252.1 1775.6,253.6 1781,252.5 1784.2,252.1" stroke-width="3.0"/>
<polyline points="1784.2,252.5 1781,257 1775.6,261.3 1769.4,260.2 1765.1,263.4 1761.4,266.6 1759.8,270.3 1757.6,273.9 1754.4,277.1" stroke-width="4.4"/>
<polyline points="1772.4,254.6 1776.7,257.8 1781,258.9" stroke-width="3.6"/>
<polyline points="1784.2,252.7 1790.6,254 1796,252.7" stroke-width="3.2"/>
<polyline points="1781,257 1786.3,257.6 1791.7,255.5" stroke-width="3.0"/>
<polyline points="1764.9,261.1 1769.2,257.8 1773.5,257.8" stroke-width="3.2"/>
<polyline points="1763.9,264.8 1768.1,262.1 1774.6,262.1 1779.9,259.4" stroke-width="3.4"/>
<polyline points="1760.1,270.7 1762.8,268" stroke-width="3.4"/>
<polyline points="1746.5,304.9 1749.9,306.5 1752.7,304.5" stroke-width="3.0"/>
<polyline points="1748.3,303.9 1751.9,303.7" stroke-width="3.4"/>
<polyline points="1740.3,313.5 1738.8,316.3 1740.9,318.9 1744.4,318.9" stroke-width="3.6"/>
<polyline points="1741.4,351 1743.5,343.8 1747.8,338.4 1749.9,339.9 1748.4,344.8 1752.1,337.8 1752.7,343.1 1751.7,347" stroke-width="2.6"/>
<polyline points="1742.4,352.1 1747.8,348.9 1753.1,346.8" stroke-width="1.8"/>
<g filter="url(#rg2)">
<polyline points="1603.7,419.8 1595.9,423 1588.7,427.7 1583.4,431.1 1584.6,437.1 1584.7,440.3" stroke-width="4.8"/>
<polyline points="1601.2,422.1 1595.3,425.6 1591,429.1 1586.8,431.8" stroke-width="3.6"/>
<polyline points="1594,433 1593.8,440.3" stroke-width="5.4"/>
<polyline points="1584.1,440 1585.2,448.6 1584.7,455.4 1587.1,460.6 1589.5,464.8" stroke-width="4.2"/>
<polyline points="1593.6,440 1593.6,446.9 1592.3,452.8 1591.2,458.8" stroke-width="5.6"/>
<polyline points="1595.7,454.4 1599.6,455.1 1601.3,452" stroke-width="2.6"/>
<polyline points="1591.8,461 1595.7,464.8 1599.1,464 1603.4,462.3 1605.1,467.4 1606.8,471.7 1606,476" stroke-width="3.4"/>
<polyline points="1597.4,468.3 1599.6,474.3 1600,480.3" stroke-width="4.0"/>
<polyline points="1593.1,461.4 1598.3,465.7 1602.5,465.7 1606,469.1" stroke-width="3.6"/>
<polyline points="1600.8,461.4 1604.3,465.7" stroke-width="3.6"/>
<polyline points="1602.5,472.5 1604.3,478.5 1603.1,482.8" stroke-width="3.0"/>
<polyline points="1610.9,476.4 1606.4,484.5 1602.4,491.4 1600.3,500 1600.7,505.5" stroke-width="3.4"/>
<polyline points="1624.8,464 1621.4,469.6 1617.6,476 1613.3,482.8 1609.6,491.4 1606.3,500 1603.2,505.5 1601.5,507" stroke-width="5.2"/>
<polyline points="1621.4,442.6 1625.7,446.9 1627,452.8 1626.5,459.7 1624.8,464" stroke-width="2.8"/>
<polyline points="1622.9,450.3 1624.8,455.4" stroke-width="4.0"/>
<polyline points="1571.3,462.4 1580.3,465 1587.1,468.4 1590.7,474.3" stroke-width="2.6"/>
<polyline points="1571.3,469.1 1578.6,470.1 1585.4,474.4 1591.4,478.7" stroke-width="2.6"/>
<polyline points="1573.4,476 1578.6,480.3 1583.7,485.4 1588.8,488.1 1592.4,491.4" stroke-width="3.2"/>
<polyline points="1576.4,491.8 1581.1,497.4 1585.4,501.8 1589.9,500 1592.1,499.1" stroke-width="3.0"/>
<polyline points="1571.3,501.8 1576.9,503.6 1581.1,506.1 1584.6,511.3 1589.7,513.8 1594.8,513" stroke-width="3.0"/>
<polyline points="1584.6,515.4 1588.8,517.1 1592.4,515.4" stroke-width="3.0"/>
<polyline points="1591.8,472.5 1592.7,478.5 1591.4,484.5 1592.3,491.4 1590.6,500 1592.3,506.8 1594.8,512.4" stroke-width="2.4"/>
<polyline points="1594.8,512.8 1600,513.7 1601.9,520.5" stroke-width="2.0"/>
<polyline points="1603.6,494.8 1602.4,501.7 1601.5,506" stroke-width="3.2"/>
</g>
<polygon points="1726.9,336.1 1730.2,335 1733.5,337.1 1736.1,339.9 1735.6,345.7 1732.8,349.5 1729.6,350.2 1727.5,346.8 1726.9,341.4" fill="#000" stroke-width="1.2"/>
<polyline points="1647.8,376.7 1653.1,375.7 1656.9,379.9 1654.2,384.2 1649.9,388.5" stroke-width="2.6"/>
<polyline points="1665.4,365.5 1672.4,362.3 1677.7,359.8 1686.3,355.7" stroke-width="2.4"/>
<polyline points="1660.6,371.9 1666,369 1672.4,369.7 1677.7,370.5 1683.1,367.6 1688.4,367.3 1694.9,368.1" stroke-width="2.6"/>
<polyline points="1652.6,383.6 1658.5,382.5 1667,381.2 1677.7,379.1 1690,375.8 1694.3,374.2 1700.7,371.5 1709.3,368.3" stroke-width="3.0"/>
<polyline points="1696.4,367.1 1702.8,364.1 1708.2,361.2" stroke-width="2.6"/>
<polyline points="1656,386.6 1656.9,390.6 1655.5,397.1 1653.3,404.6 1651.6,411 1649.1,416.3 1646.9,420" stroke-width="3.2"/>
<polyline points="1651.6,411 1651,415.7 1646.7,421.1 1642.4,425.3 1638.1,429.6 1634.9,435 1632.8,439.3 1630.6,441.9" stroke-width="3.0"/>
<polyline points="1616.3,410.6 1613.5,414.8 1610.9,418.9 1612.7,423.4" stroke-width="3.0"/>
<polyline points="1579.3,542.2 1581.9,544.8 1585.7,539.9 1588,543.3 1590.5,538.8 1592.6,542.4 1594.5,536.7 1596.9,541.6 1597.7,536.7 1600.7,539.7" stroke-width="2.2"/>
<polyline points="1596.9,549.5 1597.7,555.3 1598.7,559" stroke-width="3.0"/>
<polyline points="1601.2,549.1 1605,549.9 1606.2,552.6" stroke-width="2.4"/>
<polyline points="1570.7,562.8 1577.1,563.9 1583,563 1585.7,567.1 1592.1,569.4" stroke-width="2.8"/>
<polyline points="1580.3,561.7 1585.7,562.2 1587.6,564.9" stroke-width="3.2"/>
<polyline points="1583,567.1 1584.8,572.4 1581.9,577.8" stroke-width="3.2"/>
<polyline points="1570.7,577.8 1576.1,581 1581.4,578.8 1586.8,577.2 1592.1,579.9" stroke-width="2.2"/>
</g>
<g fill="#000">
<circle cx="1793.3" cy="256.2" r="1.4"/>
<circle cx="1796" cy="255.2" r="1.4"/>
<circle cx="1799.2" cy="258.4" r="1.4"/>
<circle cx="1800.8" cy="260" r="1.4"/>
<circle cx="1802.9" cy="256.2" r="1.4"/>
<circle cx="1751.5" cy="291.8" r="1.4"/>
<circle cx="1724.3" cy="359.4" r="1.4"/>
<circle cx="1881.2" cy="272.5" r="1.4"/>
<circle cx="1880.7" cy="275.5" r="1.4"/>
</g>
<g fill="none" stroke="#000" stroke-width="1.5" stroke-linejoin="round">
<polyline points="1671.8,251.6 1673.5,258.2 1672.4,268 1676.1,267.4 1677.5,270.2 1677.2,300.7" />
<polyline points="1677.2,300.7 1700,301.4 1731.7,302.3 1736,298.5 1741.4,295.9 1745.1,295.3" />
<polyline points="1676.9,301 1669.7,325.8" />
<polyline points="1669.7,326.1 1700,327.8 1730.1,328.3 1731.7,333.8 1732.8,339.2 1734.1,345.7" />
<polyline points="1670.2,326.7 1669.7,340 1670.2,326.4 1669.7,341.4 1669.4,356.4 1670.9,358.5 1663.8,362.8 1665.4,365" />
<polyline points="1709.8,251.6 1706.1,261.1 1701.8,269.6 1700.2,280.3 1698.6,287.8 1696.4,295.3 1698.6,300.9" />
<polyline points="1740.8,251.6 1741.4,266.4 1741.9,276 1745.7,282.5 1748.3,288" />
<polyline points="1718,328.4 1718,345 1718,353.4" />
<polyline points="1570.7,328.8 1617.8,328.8 1621,333.1 1625.3,335.3 1626.4,340 1626.9,341.4 1628.5,346.8 1632.8,350 1636.5,352.1" />
<polyline points="1636.5,352.1 1658.5,366.6" />
<polyline points="1636.5,352.1 1633.9,355.3 1630.6,360.7 1626.4,365 1624.2,367.1 1625.8,370.8 1624.2,373.5 1622.6,376.7 1623.1,381 1625.3,384.2 1628.5,388.5 1632.8,393.9 1636,397.1 1626.4,404" />
<polyline points="1570.7,413.7 1606,413.7" />
<polyline points="1606,413.6 1607.1,411 1610.3,409.4 1614.1,409.3 1616.3,410.6" />
<polyline points="1606,413.6 1608.2,459.1 1625.3,459.1" />
<polyline points="1606,475.6 1615.7,475.1" />
<polyline points="1570.7,526.6 1600.7,526.6" />
<polyline points="1584.8,252.6 1577.1,265.7 1570.7,266.8" stroke-dasharray="5 2.2" stroke-width="1.3"/>
</g>
</g>
<circle cx="1628.4" cy="534.4" r="4.7" fill="#ff0000" stroke="#000" stroke-width="1.3"/>
<g stroke="#000" stroke-width="3.3">
<line x1="1600.1" y1="243.5" x2="1600.1" y2="252.1"/>
<line x1="1600.1" y1="581.5" x2="1600.1" y2="590.3"/>
<line x1="1656.5" y1="243.5" x2="1656.5" y2="252.1"/>
<line x1="1656.5" y1="581.5" x2="1656.5" y2="590.3"/>
<line x1="1712.9" y1="243.5" x2="1712.9" y2="252.1"/>
<line x1="1712.9" y1="581.5" x2="1712.9" y2="590.3"/>
<line x1="1769.2" y1="243.5" x2="1769.2" y2="252.1"/>
<line x1="1769.2" y1="581.5" x2="1769.2" y2="590.3"/>
<line x1="1825.6" y1="243.5" x2="1825.6" y2="252.1"/>
<line x1="1825.6" y1="581.5" x2="1825.6" y2="590.3"/>
<line x1="1882" y1="243.5" x2="1882" y2="252.1"/>
<line x1="1882" y1="581.5" x2="1882" y2="590.3"/>
<line x1="1938.4" y1="243.5" x2="1938.4" y2="252.1"/>
<line x1="1938.4" y1="581.5" x2="1938.4" y2="590.3"/>
<line x1="1563.2" y1="547.1" x2="1571.9" y2="547.1"/>
<line x1="1966.6" y1="547.1" x2="1975.5" y2="547.1"/>
<line x1="1563.2" y1="476.5" x2="1571.9" y2="476.5"/>
<line x1="1966.6" y1="476.5" x2="1975.5" y2="476.5"/>
<line x1="1563.2" y1="403.9" x2="1571.9" y2="403.9"/>
<line x1="1966.6" y1="403.9" x2="1975.5" y2="403.9"/>
<line x1="1563.2" y1="329.2" x2="1571.9" y2="329.2"/>
<line x1="1966.6" y1="329.2" x2="1975.5" y2="329.2"/>
<line x1="1563.2" y1="252.6" x2="1571.9" y2="252.6"/>
<line x1="1966.6" y1="252.6" x2="1975.5" y2="252.6"/>
</g><g stroke="#000" stroke-width="1.6">
<line x1="1571.9" y1="249.3" x2="1571.9" y2="252.1"/>
<line x1="1571.9" y1="581.5" x2="1571.9" y2="584.3"/>
<line x1="1586" y1="249.3" x2="1586" y2="252.1"/>
<line x1="1586" y1="581.5" x2="1586" y2="584.3"/>
<line x1="1614.2" y1="249.3" x2="1614.2" y2="252.1"/>
<line x1="1614.2" y1="581.5" x2="1614.2" y2="584.3"/>
<line x1="1628.3" y1="249.3" x2="1628.3" y2="252.1"/>
<line x1="1628.3" y1="581.5" x2="1628.3" y2="584.3"/>
<line x1="1642.4" y1="249.3" x2="1642.4" y2="252.1"/>
<line x1="1642.4" y1="581.5" x2="1642.4" y2="584.3"/>
<line x1="1670.6" y1="249.3" x2="1670.6" y2="252.1"/>
<line x1="1670.6" y1="581.5" x2="1670.6" y2="584.3"/>
<line x1="1684.7" y1="249.3" x2="1684.7" y2="252.1"/>
<line x1="1684.7" y1="581.5" x2="1684.7" y2="584.3"/>
<line x1="1698.8" y1="249.3" x2="1698.8" y2="252.1"/>
<line x1="1698.8" y1="581.5" x2="1698.8" y2="584.3"/>
<line x1="1727" y1="249.3" x2="1727" y2="252.1"/>
<line x1="1727" y1="581.5" x2="1727" y2="584.3"/>
<line x1="1741.1" y1="249.3" x2="1741.1" y2="252.1"/>
<line x1="1741.1" y1="581.5" x2="1741.1" y2="584.3"/>
<line x1="1755.2" y1="249.3" x2="1755.2" y2="252.1"/>
<line x1="1755.2" y1="581.5" x2="1755.2" y2="584.3"/>
<line x1="1783.3" y1="249.3" x2="1783.3" y2="252.1"/>
<line x1="1783.3" y1="581.5" x2="1783.3" y2="584.3"/>
<line x1="1797.4" y1="249.3" x2="1797.4" y2="252.1"/>
<line x1="1797.4" y1="581.5" x2="1797.4" y2="584.3"/>
<line x1="1811.5" y1="249.3" x2="1811.5" y2="252.1"/>
<line x1="1811.5" y1="581.5" x2="1811.5" y2="584.3"/>
<line x1="1839.7" y1="249.3" x2="1839.7" y2="252.1"/>
<line x1="1839.7" y1="581.5" x2="1839.7" y2="584.3"/>
<line x1="1853.8" y1="249.3" x2="1853.8" y2="252.1"/>
<line x1="1853.8" y1="581.5" x2="1853.8" y2="584.3"/>
<line x1="1867.9" y1="249.3" x2="1867.9" y2="252.1"/>
<line x1="1867.9" y1="581.5" x2="1867.9" y2="584.3"/>
<line x1="1896.1" y1="249.3" x2="1896.1" y2="252.1"/>
<line x1="1896.1" y1="581.5" x2="1896.1" y2="584.3"/>
<line x1="1910.2" y1="249.3" x2="1910.2" y2="252.1"/>
<line x1="1910.2" y1="581.5" x2="1910.2" y2="584.3"/>
<line x1="1924.3" y1="249.3" x2="1924.3" y2="252.1"/>
<line x1="1924.3" y1="581.5" x2="1924.3" y2="584.3"/>
<line x1="1952.5" y1="249.3" x2="1952.5" y2="252.1"/>
<line x1="1952.5" y1="581.5" x2="1952.5" y2="584.3"/>
<line x1="1966.6" y1="249.3" x2="1966.6" y2="252.1"/>
<line x1="1966.6" y1="581.5" x2="1966.6" y2="584.3"/>
<line x1="1569.1" y1="581.7" x2="1571.9" y2="581.7"/>
<line x1="1966.6" y1="581.7" x2="1969.4" y2="581.7"/>
<line x1="1569.1" y1="564.5" x2="1571.9" y2="564.5"/>
<line x1="1966.6" y1="564.5" x2="1969.4" y2="564.5"/>
<line x1="1569.1" y1="529.6" x2="1571.9" y2="529.6"/>
<line x1="1966.6" y1="529.6" x2="1969.4" y2="529.6"/>
<line x1="1569.1" y1="512" x2="1571.9" y2="512"/>
<line x1="1966.6" y1="512" x2="1969.4" y2="512"/>
<line x1="1569.1" y1="494.3" x2="1571.9" y2="494.3"/>
<line x1="1966.6" y1="494.3" x2="1969.4" y2="494.3"/>
<line x1="1569.1" y1="458.5" x2="1571.9" y2="458.5"/>
<line x1="1966.6" y1="458.5" x2="1969.4" y2="458.5"/>
<line x1="1569.1" y1="440.5" x2="1571.9" y2="440.5"/>
<line x1="1966.6" y1="440.5" x2="1969.4" y2="440.5"/>
<line x1="1569.1" y1="422.3" x2="1571.9" y2="422.3"/>
<line x1="1966.6" y1="422.3" x2="1969.4" y2="422.3"/>
<line x1="1569.1" y1="385.5" x2="1571.9" y2="385.5"/>
<line x1="1966.6" y1="385.5" x2="1969.4" y2="385.5"/>
<line x1="1569.1" y1="366.9" x2="1571.9" y2="366.9"/>
<line x1="1966.6" y1="366.9" x2="1969.4" y2="366.9"/>
<line x1="1569.1" y1="348.1" x2="1571.9" y2="348.1"/>
<line x1="1966.6" y1="348.1" x2="1969.4" y2="348.1"/>
<line x1="1569.1" y1="310.2" x2="1571.9" y2="310.2"/>
<line x1="1966.6" y1="310.2" x2="1969.4" y2="310.2"/>
<line x1="1569.1" y1="291" x2="1571.9" y2="291"/>
<line x1="1966.6" y1="291" x2="1969.4" y2="291"/>
<line x1="1569.1" y1="271.6" x2="1571.9" y2="271.6"/>
<line x1="1966.6" y1="271.6" x2="1969.4" y2="271.6"/>
</g>
<g font-size="22.2" fill="#000">
<text x="1555.4" y="556.4" text-anchor="end">36°N</text>
<text x="1555.4" y="485.8" text-anchor="end">38°N</text>
<text x="1555.4" y="413.2" text-anchor="end">40°N</text>
<text x="1555.4" y="338.5" text-anchor="end">42°N</text>
<text x="1555.4" y="261.4" text-anchor="end">44°N</text>
<text transform="translate(1597.7,624.8) rotate(-45)" x="0" y="8.1" text-anchor="middle">76°W</text>
<text transform="translate(1654.1,624.8) rotate(-45)" x="0" y="8.1" text-anchor="middle">74°W</text>
<text transform="translate(1710.5,624.8) rotate(-45)" x="0" y="8.1" text-anchor="middle">72°W</text>
<text transform="translate(1766.8,624.8) rotate(-45)" x="0" y="8.1" text-anchor="middle">70°W</text>
<text transform="translate(1823.2,624.8) rotate(-45)" x="0" y="8.1" text-anchor="middle">68°W</text>
<text transform="translate(1879.6,624.8) rotate(-45)" x="0" y="8.1" text-anchor="middle">66°W</text>
<text transform="translate(1936,624.8) rotate(-45)" x="0" y="8.1" text-anchor="middle">64°W</text>
</g>
<rect x="1637.8" y="640.7" width="261.2" height="178.2" rx="4.5" ry="4.5" fill="#fff" fill-opacity="0.8" stroke="#ccc" stroke-opacity="0.8" stroke-width="1.6"/>
<line x1="1646.1" y1="660.6" x2="1695" y2="660.6" stroke="#0000ff" stroke-width="2.7"/>
<circle cx="1670.5" cy="660.6" r="6" fill="#0000ff"/>
<text x="1710.87" y="669.6" font-size="22.57" textLength="80.29" lengthAdjust="spacingAndGlyphs" xml:space="preserve">cp_335</text>
<line x1="1646.1" y1="695" x2="1695" y2="695" stroke="#ff0000" stroke-width="2.7"/>
<circle cx="1670.5" cy="695" r="6" fill="#ff0000"/>
<text x="1710.07" y="703" font-size="22.57" textLength="72.89" lengthAdjust="spacingAndGlyphs" xml:space="preserve">RTOFS</text>
<line x1="1646.1" y1="729.2" x2="1695" y2="729.2" stroke="#ffa500" stroke-width="2.7"/>
<circle cx="1670.5" cy="729.2" r="6" fill="#ffa500"/>
<text x="1710.06" y="737.2" font-size="22.57" textLength="181.3" lengthAdjust="spacingAndGlyphs" xml:space="preserve">RTOFS (Parallel)</text>
<line x1="1646.1" y1="763.3" x2="1695" y2="763.3" stroke="#008000" stroke-width="2.7"/>
<circle cx="1670.5" cy="763.3" r="6" fill="#008000"/>
<text x="1710.07" y="771.3" font-size="22.57" textLength="58.47" lengthAdjust="spacingAndGlyphs" xml:space="preserve">ESPC</text>
<line x1="1646.1" y1="797.5" x2="1695" y2="797.5" stroke="#ff00ff" stroke-width="2.7"/>
<circle cx="1670.5" cy="797.5" r="6" fill="#ff00ff"/>
<text x="1710.84" y="805.5" font-size="22.57" textLength="82.81" lengthAdjust="spacingAndGlyphs" xml:space="preserve">CMEMS</text>
</svg></body></html>
